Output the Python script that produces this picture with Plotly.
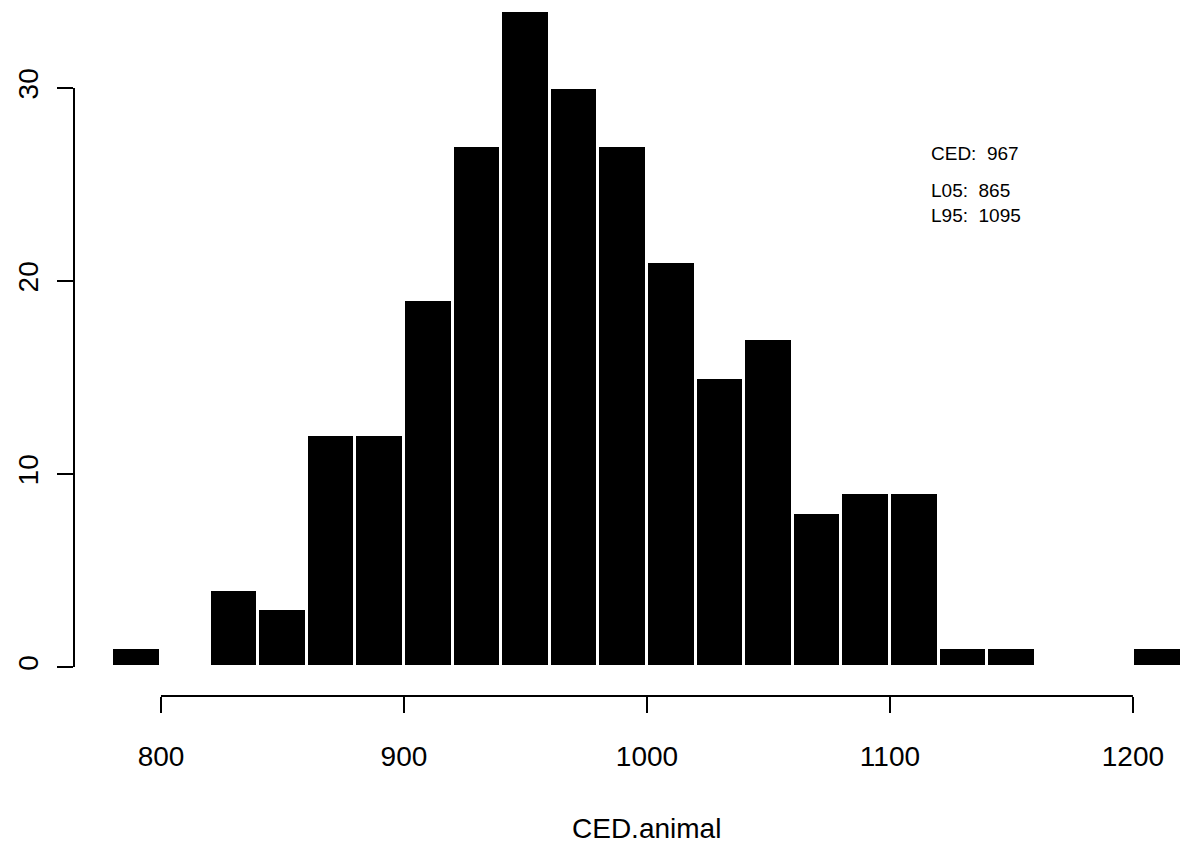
import numpy as np
import plotly.graph_objects as go

# Histogram data (bin edges of width 20, counts)
bin_edges = [780, 800, 820, 840, 860, 880, 900, 920, 940, 960, 980, 1000,
             1020, 1040, 1060, 1080, 1100, 1120, 1140, 1160, 1180, 1200, 1220]
counts = [1, 0, 4, 3, 12, 12, 19, 27, 34, 30, 27, 21,
          15, 17, 8, 9, 9, 1, 1, 0, 0, 1]

x_ticks = [800, 900, 1000, 1100, 1200]
y_ticks = [0, 10, 20, 30]

stats_labels = ["CED:  967", "L05:  865", "L95:  1095"]
stats_y = [26.6, 24.7, 23.4]
x_title = "CED.animal"

edges = np.array(bin_edges, dtype=float)
centers = (edges[:-1] + edges[1:]) / 2
widths = np.diff(edges)

FONT = "Liberation Sans, Arial, Helvetica, sans-serif"

fig = go.Figure()
fig.add_trace(go.Bar(
    x=centers, y=counts, width=widths,
    marker=dict(color="black", line=dict(color="white", width=3)),
    showlegend=False, hoverinfo="x+y",
))

shapes = [
    # x axis line spanning first to last tick
    dict(type="line", xref="x", yref="paper", x0=x_ticks[0], x1=x_ticks[-1],
         y0=0, y1=0, line=dict(color="black", width=2)),
    # y axis line spanning first to last tick
    dict(type="line", xref="paper", yref="y", x0=0, x1=0,
         y0=y_ticks[0], y1=y_ticks[-1], line=dict(color="black", width=2)),
]

annotations = []
for lab, yy in zip(stats_labels, stats_y):
    annotations.append(dict(x=1116, y=yy, xref="x", yref="y", text=lab,
                            showarrow=False, xanchor="left", yanchor="middle",
                            font=dict(family=FONT, size=19, color="black")))
annotations.append(dict(x=1000, y=-0.191, xref="x", yref="paper", text=x_title,
                        showarrow=False, xanchor="center", yanchor="middle",
                        font=dict(family=FONT, size=28, color="black")))

fig.update_layout(
    width=1182, height=845,
    margin=dict(l=74, r=0, t=0, b=149),
    paper_bgcolor="white", plot_bgcolor="white",
    bargap=0,
    shapes=shapes,
    annotations=annotations,
    font=dict(family=FONT, color="black"),
)
fig.update_xaxes(
    range=[764.2, 1220.2], showgrid=False, zeroline=False, showline=False,
    tickmode="array", tickvals=x_ticks, ticktext=[str(v) for v in x_ticks],
    ticks="outside", ticklen=16, tickwidth=2, tickcolor="black",
    tickfont=dict(family=FONT, size=28, color="black"),
    ticklabelstandoff=19,
)
fig.update_yaxes(
    range=[-1.5, 34.56], showgrid=False, zeroline=False, showline=False,
    tickmode="array", tickvals=y_ticks, ticktext=[str(v) for v in y_ticks],
    ticks="outside", ticklen=16, tickwidth=2, tickcolor="black",
    tickangle=-90,
    tickfont=dict(family=FONT, size=28, color="black"),
    ticklabelstandoff=8,
)

fig.write_html("out.html")
